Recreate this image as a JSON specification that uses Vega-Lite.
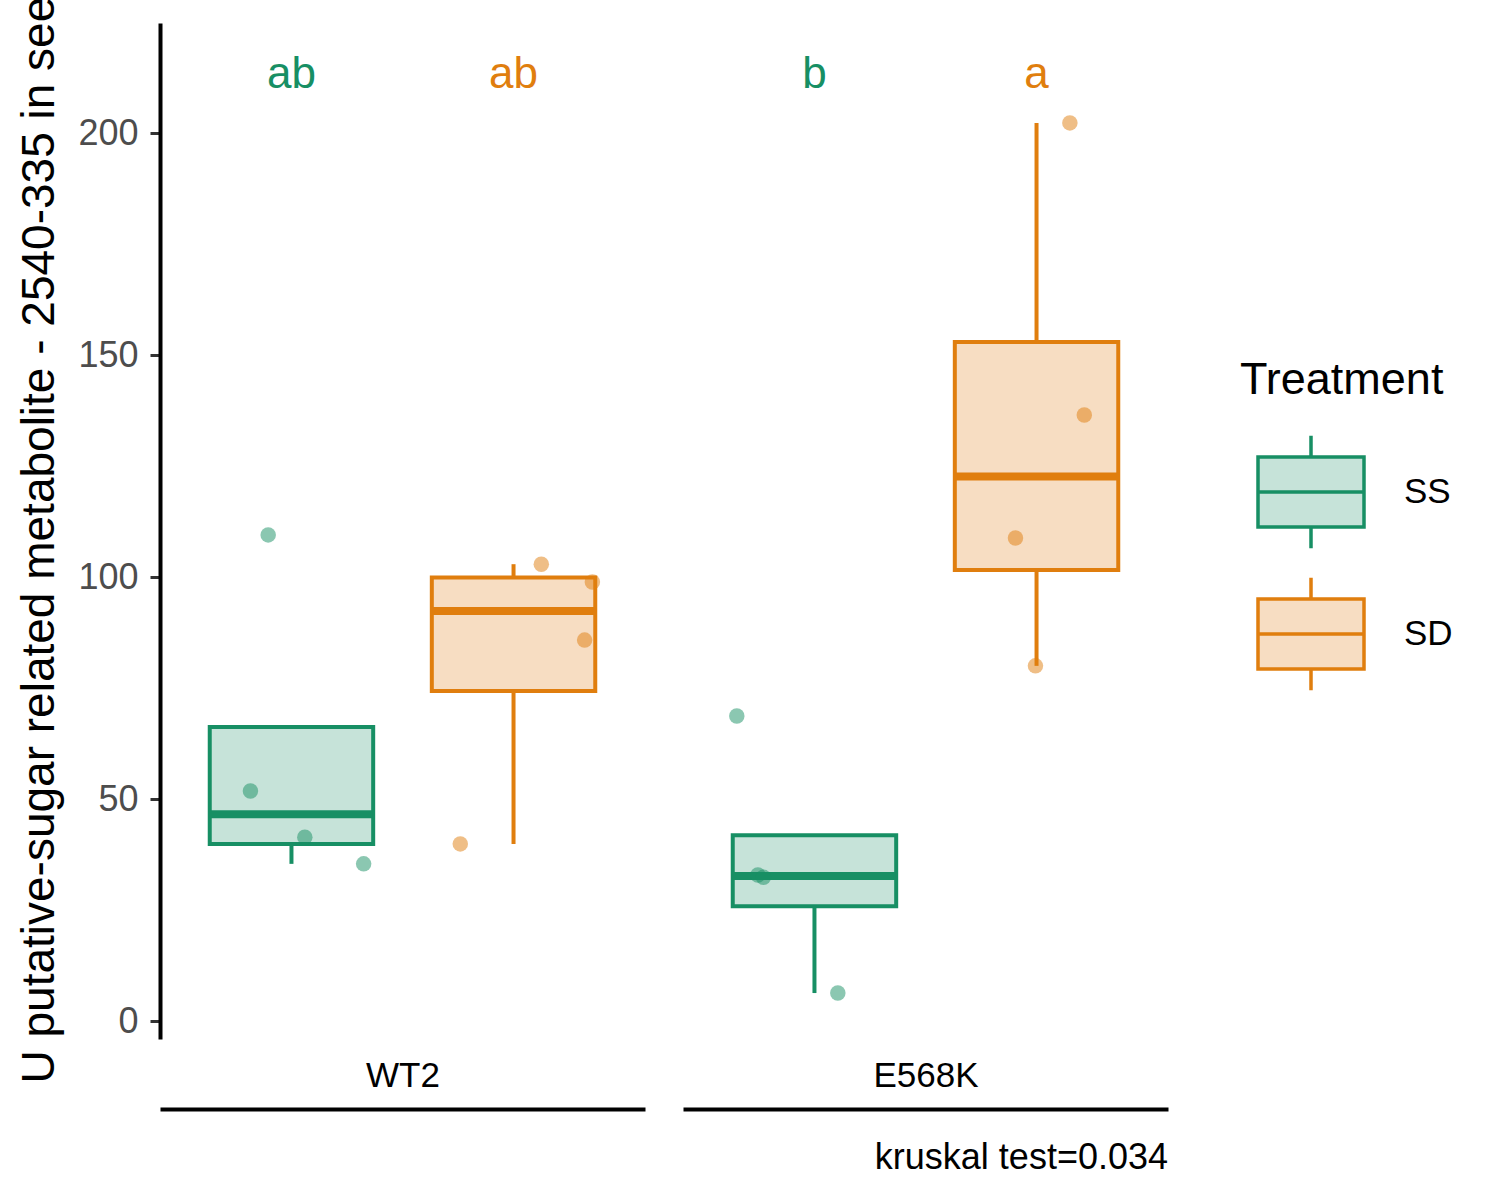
{
  "$schema": "https://vega.github.io/schema/vega-lite/v6.json",
  "background": "white",
  "padding": {"left": 15, "top": -4, "right": 10, "bottom": 10},
  "bounds": "flush",
  "config": {
    "font": "Liberation Sans",
    "view": {"stroke": null},
    "axis": {
      "grid": false,
      "domainColor": "black",
      "domainWidth": 4,
      "tickColor": "#333333",
      "tickWidth": 3,
      "tickSize": 10,
      "labelFontSize": 36,
      "labelColor": "#4D4D4D",
      "labelPadding": 12,
      "titleFontWeight": "normal",
      "titleColor": "black"
    },
    "legend": {
      "titleFontSize": 45,
      "titleFontWeight": "normal",
      "titleColor": "black",
      "titlePadding": 34,
      "titleLimit": 400,
      "labelFontSize": 35,
      "labelColor": "black",
      "labelOffset": 38,
      "symbolType": "M-1,-0.66H1V0.66H-1Z M-1,0H1 M0,-0.66V-1.06 M0,0.66V1.06",
      "symbolSize": 11236,
      "symbolStrokeWidth": 3.5,
      "symbolOffset": 16,
      "rowPadding": 14
    }
  },
  "datasets": {
    "obs": [
      {"genotype": "WT2", "treatment": "SS", "value": 109.5, "jitter": -0.21},
      {"genotype": "WT2", "treatment": "SS", "value": 51.8, "jitter": -0.37},
      {"genotype": "WT2", "treatment": "SS", "value": 41.4, "jitter": 0.12},
      {"genotype": "WT2", "treatment": "SS", "value": 35.4, "jitter": 0.65},
      {"genotype": "WT2", "treatment": "SD", "value": 102.9, "jitter": 0.25},
      {"genotype": "WT2", "treatment": "SD", "value": 98.9, "jitter": 0.71},
      {"genotype": "WT2", "treatment": "SD", "value": 85.8, "jitter": 0.64},
      {"genotype": "WT2", "treatment": "SD", "value": 39.9, "jitter": -0.48},
      {"genotype": "E568K", "treatment": "SS", "value": 68.7, "jitter": -0.7},
      {"genotype": "E568K", "treatment": "SS", "value": 32.9, "jitter": -0.51},
      {"genotype": "E568K", "treatment": "SS", "value": 32.4, "jitter": -0.46},
      {"genotype": "E568K", "treatment": "SS", "value": 6.3, "jitter": 0.21},
      {"genotype": "E568K", "treatment": "SD", "value": 202.3, "jitter": 0.3},
      {"genotype": "E568K", "treatment": "SD", "value": 136.5, "jitter": 0.43},
      {"genotype": "E568K", "treatment": "SD", "value": 108.8, "jitter": -0.19},
      {"genotype": "E568K", "treatment": "SD", "value": 80.0, "jitter": -0.01}
    ],
    "letters": [
      {"genotype": "WT2", "treatment": "SS", "letter": "ab"},
      {"genotype": "WT2", "treatment": "SD", "letter": "ab"},
      {"genotype": "E568K", "treatment": "SS", "letter": "b"},
      {"genotype": "E568K", "treatment": "SD", "letter": "a"}
    ]
  },
  "spacing": 38,
  "hconcat": [
    {
      "width": 485,
      "height": 1016,
      "data": {"name": "obs"},
      "transform": [{"filter": "datum.genotype === 'WT2'"}],
      "encoding": {
        "x": {
          "field": "treatment", "type": "nominal", "sort": ["SS", "SD"],
          "scale": {"domain": ["SS", "SD"], "paddingInner": 0.264, "paddingOuter": 0.224},
          "axis": {"offset": 70, "labels": false, "ticks": false, "title": "WT2", "titleY": -34, "titleBaseline": "middle", "titleFontSize": 35}
        }
      },
      "layer": [
        {
          "transform": [
            {"joinaggregate": [
              {"op": "q1", "field": "value", "as": "q1"},
              {"op": "median", "field": "value", "as": "mid"},
              {"op": "q3", "field": "value", "as": "q3"}
            ], "groupby": ["treatment"]},
            {"filter": "datum.value >= datum.q1 - 1.5 * (datum.q3 - datum.q1) && datum.value <= datum.q3 + 1.5 * (datum.q3 - datum.q1)"},
            {"aggregate": [
              {"op": "min", "field": "value", "as": "lo"},
              {"op": "max", "field": "value", "as": "hi"}
            ], "groupby": ["treatment", "q1", "mid", "q3"]}
          ],
          "layer": [
            {
              "mark": {"type": "rule", "strokeWidth": 4},
              "encoding": {
                "y": {
                  "field": "q3", "type": "quantitative",
                  "scale": {"domain": [-4.05, 224.8], "nice": false, "zero": false},
                  "axis": {
                    "values": [0, 50, 100, 150, 200],
                    "title": "U putative-sugar related metabolite - 2540-335 in see",
                    "titleFontSize": 46,
                    "titleAngle": 270,
                    "titleAlign": "left",
                    "titleBaseline": "top",
                    "titleX": -143,
                    "titleY": 1060
                  }
                },
                "y2": {"field": "hi"},
                "stroke": {"field": "treatment", "type": "nominal", "scale": {"domain": ["SS", "SD"], "range": ["#178F64", "#E07E0E"]}, "legend": {"title": "Treatment", "orient": "none", "legendX": 1080, "legendY": 335}}
              }
            },
            {
              "mark": {"type": "rule", "strokeWidth": 4},
              "encoding": {
                "y": {"field": "lo", "type": "quantitative"},
                "y2": {"field": "q1"},
                "stroke": {"field": "treatment", "type": "nominal"}
              }
            },
            {
              "mark": {"type": "bar", "strokeWidth": 4, "width": {"band": 1}},
              "encoding": {
                "y": {"field": "q1", "type": "quantitative"},
                "y2": {"field": "q3"},
                "fill": {"field": "treatment", "type": "nominal", "scale": {"domain": ["SS", "SD"], "range": ["#C6E3D9", "#F7DDC2"]}, "legend": {"title": "Treatment", "orient": "none", "legendX": 1080, "legendY": 335}},
                "stroke": {"field": "treatment", "type": "nominal"}
              }
            },
            {
              "mark": {"type": "tick", "thickness": 8, "size": 163, "opacity": 1},
              "encoding": {
                "y": {"field": "mid", "type": "quantitative"},
                "color": {"field": "treatment", "type": "nominal", "scale": {"domain": ["SS", "SD"], "range": ["#178F64", "#E07E0E"]}, "legend": null}
              }
            }
          ]
        },
        {
          "mark": {"type": "circle", "size": 240, "opacity": 0.5},
          "encoding": {
            "xOffset": {"field": "jitter", "type": "quantitative", "scale": {"domain": [-1, 1], "range": [-29.25, 192.75]}},
            "y": {"field": "value", "type": "quantitative"},
            "color": {"field": "treatment", "type": "nominal", "legend": null}
          }
        },
        {
          "data": {"name": "letters"},
          "transform": [{"filter": "datum.genotype === 'WT2'"}],
          "mark": {"type": "text", "fontSize": 44, "baseline": "middle"},
          "encoding": {
            "y": {"datum": 213, "type": "quantitative"},
            "text": {"field": "letter"},
            "color": {"field": "treatment", "type": "nominal", "legend": null}
          }
        }
      ],
      "resolve": {"scale": {"xOffset": "independent"}}
    },
    {
      "width": 485,
      "height": 1016,
      "data": {"name": "obs"},
      "transform": [{"filter": "datum.genotype === 'E568K'"}],
      "title": {"text": "kruskal test=0.034", "orient": "bottom", "anchor": "end", "frame": "group", "fontSize": 36, "fontWeight": "normal", "color": "black", "offset": 32},
      "encoding": {
        "x": {
          "field": "treatment", "type": "nominal", "sort": ["SS", "SD"],
          "scale": {"domain": ["SS", "SD"], "paddingInner": 0.264, "paddingOuter": 0.224},
          "axis": {"offset": 70, "labels": false, "ticks": false, "title": "E568K", "titleY": -34, "titleBaseline": "middle", "titleFontSize": 35}
        }
      },
      "layer": [
        {
          "transform": [
            {"joinaggregate": [
              {"op": "q1", "field": "value", "as": "q1"},
              {"op": "median", "field": "value", "as": "mid"},
              {"op": "q3", "field": "value", "as": "q3"}
            ], "groupby": ["treatment"]},
            {"filter": "datum.value >= datum.q1 - 1.5 * (datum.q3 - datum.q1) && datum.value <= datum.q3 + 1.5 * (datum.q3 - datum.q1)"},
            {"aggregate": [
              {"op": "min", "field": "value", "as": "lo"},
              {"op": "max", "field": "value", "as": "hi"}
            ], "groupby": ["treatment", "q1", "mid", "q3"]}
          ],
          "layer": [
            {
              "mark": {"type": "rule", "strokeWidth": 4},
              "encoding": {
                "y": {"field": "q3", "type": "quantitative", "scale": {"domain": [-4.05, 224.8], "nice": false, "zero": false}, "axis": null},
                "y2": {"field": "hi"},
                "stroke": {"field": "treatment", "type": "nominal"}
              }
            },
            {
              "mark": {"type": "rule", "strokeWidth": 4},
              "encoding": {
                "y": {"field": "lo", "type": "quantitative", "axis": null},
                "y2": {"field": "q1"},
                "stroke": {"field": "treatment", "type": "nominal"}
              }
            },
            {
              "mark": {"type": "bar", "strokeWidth": 4, "width": {"band": 1}},
              "encoding": {
                "y": {"field": "q1", "type": "quantitative", "axis": null},
                "y2": {"field": "q3"},
                "fill": {"field": "treatment", "type": "nominal"},
                "stroke": {"field": "treatment", "type": "nominal"}
              }
            },
            {
              "mark": {"type": "tick", "thickness": 8, "size": 163, "opacity": 1},
              "encoding": {
                "y": {"field": "mid", "type": "quantitative", "axis": null},
                "color": {"field": "treatment", "type": "nominal", "legend": null}
              }
            }
          ]
        },
        {
          "mark": {"type": "circle", "size": 240, "opacity": 0.5},
          "encoding": {
            "xOffset": {"field": "jitter", "type": "quantitative", "scale": {"domain": [-1, 1], "range": [-29.25, 192.75]}},
            "y": {"field": "value", "type": "quantitative", "axis": null},
            "color": {"field": "treatment", "type": "nominal", "legend": null}
          }
        },
        {
          "data": {"name": "letters"},
          "transform": [{"filter": "datum.genotype === 'E568K'"}],
          "mark": {"type": "text", "fontSize": 44, "baseline": "middle"},
          "encoding": {
            "y": {"datum": 213, "type": "quantitative", "axis": null},
            "text": {"field": "letter"},
            "color": {"field": "treatment", "type": "nominal", "legend": null}
          }
        }
      ],
      "resolve": {"scale": {"xOffset": "independent"}}
    }
  ],
  "resolve": {"scale": {"y": "shared", "fill": "shared", "stroke": "shared", "color": "shared"}}
}
